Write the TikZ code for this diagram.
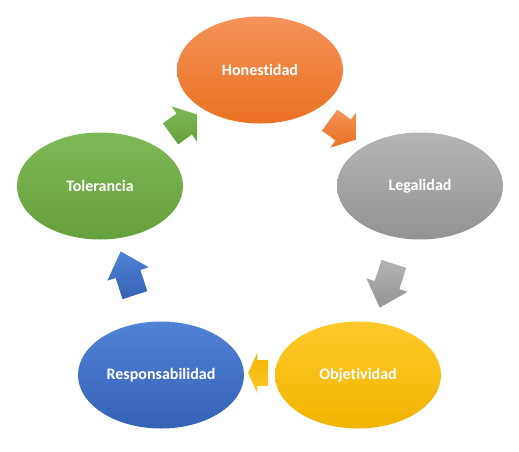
\documentclass[11pt,tikz,border=0pt]{standalone}
\usepackage{fontspec}
\setmainfont{Carlito}[Ligatures={NoCommon,NoRare}]
\usetikzlibrary{shapes.geometric,shapes.arrows}
\definecolor{honTop}{HTML}{F4935A}
\definecolor{honBot}{HTML}{EA7020}
\definecolor{legTop}{HTML}{B4B4B4}
\definecolor{legBot}{HTML}{939393}
\definecolor{objTop}{HTML}{FFC92B}
\definecolor{objBot}{HTML}{F0B400}
\definecolor{resTop}{HTML}{5082D6}
\definecolor{resBot}{HTML}{3562B5}
\definecolor{tolTop}{HTML}{7DB956}
\definecolor{tolBot}{HTML}{65A03C}

\begin{document}
\begin{tikzpicture}[x=0.75pt,y=-0.75pt, every node/.style={align=center},
 ring/.style={ellipse,minimum width=124.5pt,minimum height=80.25pt,inner sep=0pt,
  text=white,font=\fontsize{12pt}{14pt}\selectfont\bfseries},
 turn/.style={single arrow,draw=none,inner xsep=0pt,inner ysep=9.55pt,
  single arrow head extend=6.56pt}]
\useasboundingbox (0,0) rectangle (519,451);
\node[ring,top color=honTop,bottom color=honBot] (hon) at (260,70) {Honestidad};
\node[ring,top color=legTop,bottom color=legBot] (leg) at (420,186) {Legalidad};
\node[ring,top color=objTop,bottom color=objBot] (obj) at (358,375) {Objetividad};
\node[ring,top color=resTop,bottom color=resBot] (res) at (161,375) {Responsabilidad};
\node[ring,top color=tolTop,bottom color=tolBot] (tol) at (100,186) {Tolerancia};
% arrows between the values
\node[turn,minimum height=24.75pt,single arrow tip angle=107,rotate=-36,
 top color=honTop,bottom color=honBot] (honleg) at (339,127) {};
\node[turn,minimum height=34.5pt,single arrow tip angle=85,rotate=-108,
 top color=legTop,bottom color=legBot] (legobj) at (389,279) {};
\node[turn,minimum height=15pt,inner ysep=9.4pt,single arrow head extend=5.6pt,
 single arrow tip angle=131,rotate=180,
 top color=objBot,bottom color=objTop] (objres) at (261,373) {};
\node[turn,minimum height=34.5pt,single arrow tip angle=85,rotate=108,
 top color=resTop,bottom color=resBot] (restol) at (130,280) {};
\node[turn,minimum height=24.75pt,single arrow tip angle=107,rotate=36,
 top color=tolTop,bottom color=tolBot] (tolhon) at (180,127) {};
\end{tikzpicture}
\end{document}
